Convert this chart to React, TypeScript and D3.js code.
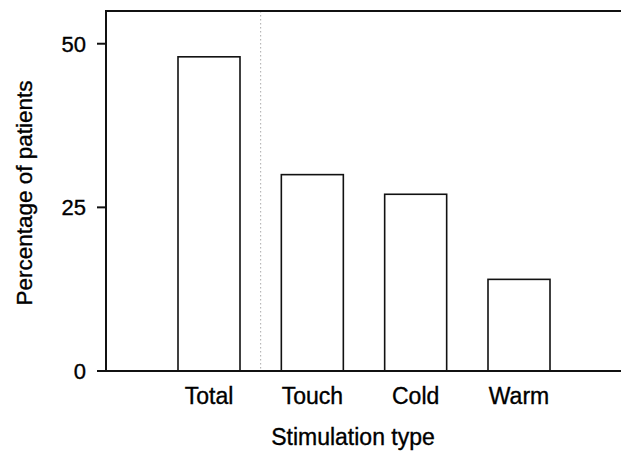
import * as React from 'react';
import {useEffect, useRef} from 'react';
import * as d3 from 'd3';

const categories = ['Total', 'Touch', 'Cold', 'Warm'];
const percentages = [48, 30, 27, 14];
const yTicks = [0, 25, 50];

const width = 621;
const height = 455;
const font = '"Liberation Sans", Arial, sans-serif';

export default function App() {
  const ref = useRef<SVGSVGElement>(null);

  useEffect(() => {
    const svg = d3.select(ref.current);
    svg.selectAll('*').remove();

    const x = d3.scaleBand<string>()
      .domain(categories)
      .range([178, 550])
      .paddingInner(0.4)
      .paddingOuter(0);

    const y = d3.scaleLinear()
      .domain([0, 55])
      .range([371, 11]);

    const axisLeft = 106;

    // separator between total and the individual types
    const sepX = (x('Total')! + x.bandwidth() + x('Touch')!) / 2;
    svg.append('line')
      .attr('x1', sepX).attr('x2', sepX)
      .attr('y1', y(55)).attr('y2', y(0))
      .attr('stroke', '#aaa')
      .attr('stroke-width', 1)
      .attr('stroke-dasharray', '1.5,2.5');

    // bars
    svg.append('g')
      .selectAll('rect')
      .data(categories)
      .join('rect')
      .attr('x', d => x(d)!)
      .attr('y', (d, i) => y(percentages[i]))
      .attr('width', x.bandwidth())
      .attr('height', (d, i) => y(0) - y(percentages[i]))
      .attr('fill', 'white')
      .attr('stroke', '#111')
      .attr('stroke-width', 1.6);

    // frame: top border, y axis, baseline
    svg.append('line')
      .attr('x1', axisLeft).attr('x2', width)
      .attr('y1', y(55)).attr('y2', y(55))
      .attr('stroke', '#111').attr('stroke-width', 2);
    svg.append('line')
      .attr('x1', axisLeft).attr('x2', axisLeft)
      .attr('y1', y(55) - 1).attr('y2', y(0))
      .attr('stroke', '#111').attr('stroke-width', 2);
    svg.append('line')
      .attr('x1', 97).attr('x2', width)
      .attr('y1', y(0)).attr('y2', y(0))
      .attr('stroke', '#111').attr('stroke-width', 2);

    const txt = (sel: any, size: number) => sel
      .style('font', `${size}px ${font}`)
      .attr('fill', '#000')
      .attr('stroke', '#000')
      .attr('stroke-width', 0.35);

    // y ticks
    const ticks = svg.append('g');
    ticks.selectAll('line')
      .data(yTicks)
      .join('line')
      .attr('x1', 97).attr('x2', axisLeft)
      .attr('y1', d => y(d)).attr('y2', d => y(d))
      .attr('stroke', '#111').attr('stroke-width', 2);
    txt(ticks.selectAll('text')
      .data(yTicks)
      .join('text')
      .attr('x', 86)
      .attr('y', d => y(d))
      .attr('dy', '0.36em')
      .attr('text-anchor', 'end')
      .text(d => d), 22);

    // category labels
    txt(svg.append('g')
      .selectAll('text')
      .data(categories)
      .join('text')
      .attr('x', d => x(d)! + x.bandwidth() / 2)
      .attr('y', 404)
      .attr('text-anchor', 'middle')
      .text(d => d), 23);

    txt(svg.append('text')
      .attr('x', 353)
      .attr('y', 445)
      .attr('text-anchor', 'middle')
      .text('Stimulation type'), 23);

    txt(svg.append('text')
      .attr('transform', 'translate(32,193) rotate(-90)')
      .attr('text-anchor', 'middle')
      .text('Percentage of patients'), 22.5);
  }, []);

  return (
    <svg
      ref={ref}
      width={width}
      height={height}
      style={{position: 'absolute', left: 0, top: 0, background: 'white'}}
    />
  );
}
